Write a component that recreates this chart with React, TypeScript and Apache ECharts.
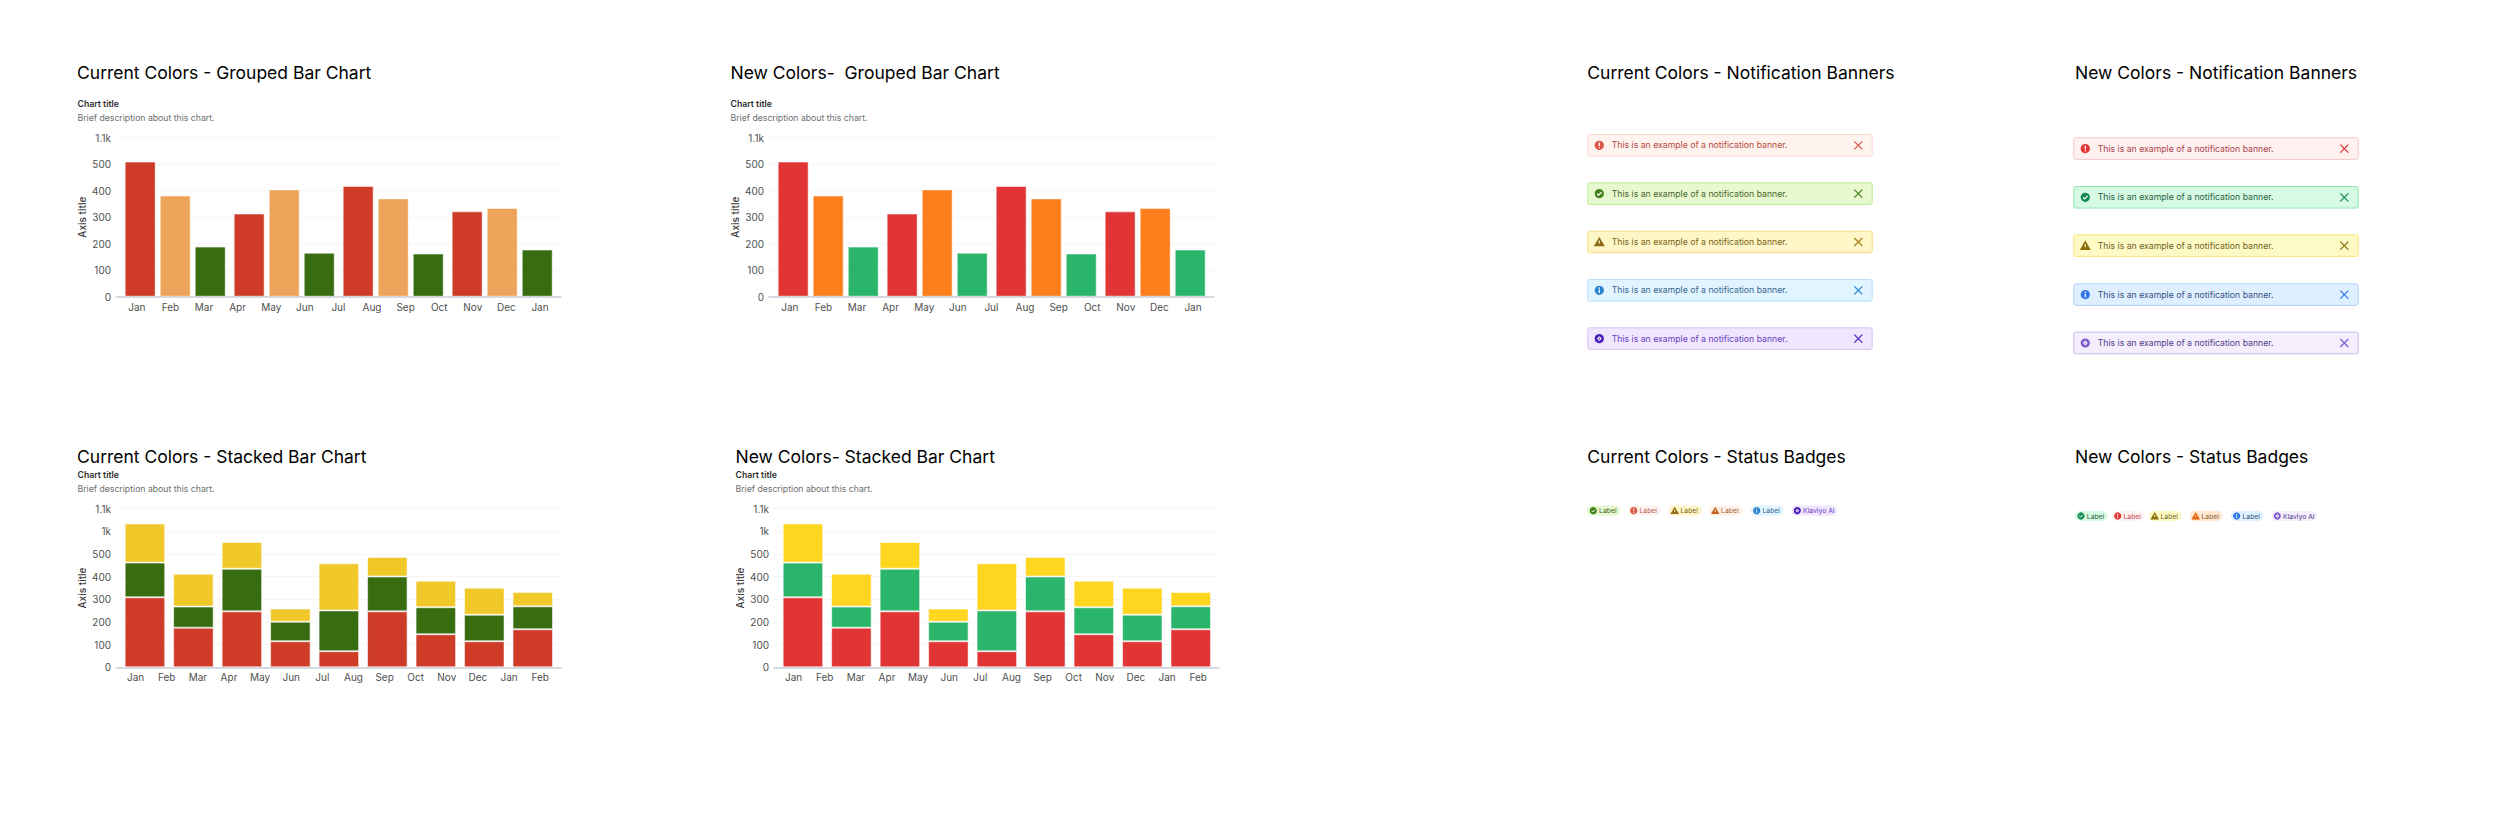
import React, { useEffect, useRef } from "react";
import * as echarts from "echarts";

// ---- chart data ----
const groupedLabels = ["Jan", "Feb", "Mar", "Apr", "May", "Jun", "Jul", "Aug", "Sep", "Oct", "Nov", "Dec", "Jan"];
const groupedBands = ["Group 1", "Group 2", "Group 3", "Group 4"];
const groupedA = [510, 314, 418, 322];
const groupedB = [382, 405, 371, 335];
const groupedC = [189, 166, 163, 178];
const groupedTicks = ["0", "100", "200", "300", "400", "500", "1.1k"];

const stackedLabels = ["Jan", "Feb", "Mar", "Apr", "May", "Jun", "Jul", "Aug", "Sep", "Oct", "Nov", "Dec", "Jan", "Feb"];
const stackedBands = ["1", "2", "3", "4", "5", "6", "7", "8", "9"];
const stackedBottom = [309, 175, 247, 115, 71, 247, 146, 115, 168];
const stackedMiddle = [153, 93, 188, 86, 180, 154, 119, 117, 101];
const stackedTop = [173, 145, 118, 58, 208, 86, 117, 119, 63];
const stackedTicks = ["0", "100", "200", "300", "400", "500", "1k", "1.1k"];

// ---- texts ----
const bannerText = "This is an example of a notification banner.";
const badgeTexts = ["Label", "Label", "Label", "Label", "Label", "Klaviyo AI"];
const chartTitle = "Chart title";
const chartDesc = "Brief description about this chart.";

const FONT = "Inter, 'Noto Sans', sans-serif";
const currentBars = { red: "#CE3B27", orange: "#EDA35A", green: "#386C10", yellow: "#F0C829" };
const newBars = { red: "#E13535", orange: "#FC7E1C", green: "#2BB56B", yellow: "#FFD61F" };

type Tone = { bg: string; border: string; icon: string; text: string; close: string; inner: string };
const currentTones: Tone[] = [
  { bg: "#FEF3EF", border: "#FCD5CE", icon: "#DD5546", text: "#B8493C", close: "#DD5546", inner: "#fff" },
  { bg: "#E9F9CF", border: "#BCE88E", icon: "#44801C", text: "#44662A", close: "#44801C", inner: "#fff" },
  { bg: "#FEF6C6", border: "#F6DB82", icon: "#8E6A1A", text: "#7A6320", close: "#A8801F", inner: "#FEF6C6" },
  { bg: "#E0F5FF", border: "#B5E0FA", icon: "#2B82D0", text: "#3A648F", close: "#2B82D0", inner: "#fff" },
  { bg: "#F0E6FD", border: "#D8C0F6", icon: "#4A1FB8", text: "#6A3FC0", close: "#4A1FB8", inner: "#fff" },
];
const newTones: Tone[] = [
  { bg: "#FEF1F0", border: "#F8C6C4", icon: "#E13535", text: "#A8424A", close: "#E13535", inner: "#fff" },
  { bg: "#D6FAE2", border: "#8DE8AE", icon: "#148A55", text: "#2B5F48", close: "#148A55", inner: "#fff" },
  { bg: "#FEFAC6", border: "#FBE478", icon: "#8A6D08", text: "#6E5F20", close: "#8A6D08", inner: "#FEFAC6" },
  { bg: "#DEF0FF", border: "#B0D2FA", icon: "#3278E8", text: "#33507F", close: "#3278E8", inner: "#fff" },
  { bg: "#F4EEFD", border: "#C9B8EC", icon: "#7E5CD0", text: "#4E4088", close: "#7E5CD0", inner: "#fff" },
];
const currentBadges: Tone[] = [
  { ...currentTones[1], bg: "#E5F8CF", text: "#44662A" },
  { ...currentTones[0], text: "#C0584C" },
  { ...currentTones[2], icon: "#8E6A1A", text: "#7A6320" },
  { bg: "#FFF1E8", border: "", icon: "#C4601E", text: "#9A6238", close: "", inner: "#FFF1E8" },
  { ...currentTones[3], text: "#3A648F" },
  { ...currentTones[4], text: "#6A3FC0" },
];
const newBadges: Tone[] = [
  { ...newTones[1] },
  { ...newTones[0], text: "#C04A50" },
  { ...newTones[2] },
  { bg: "#FFE8D2", border: "", icon: "#E8650F", text: "#8E5A30", close: "", inner: "#FFE8D2" },
  { ...newTones[3] },
  { ...newTones[4] },
];
const bannerIcons = ["alert", "check", "warn", "info", "spark"];
const badgeIcons = ["check", "alert", "warn", "warn", "info", "spark"];

// ---- helpers ----
function label(text: string, x: number, y: number, font: string, fill: string) {
  return { type: "text", x, y, silent: true, style: { text, x: 0, y: 0, font, fill, align: "left", verticalAlign: "middle" } };
}

function icon(kind: string, cx: number, cy: number, r: number, t: Tone) {
  const c = t.icon;
  const w = t.inner;
  const k = r / 4;
  const out: any[] = [];
  if (kind === "warn") {
    out.push({ type: "polygon", silent: true, shape: { points: [[cx, cy - 4.4 * k], [cx + 4.8 * k, cy + 3.8 * k], [cx - 4.8 * k, cy + 3.8 * k]] }, style: { fill: c } });
    out.push({ type: "rect", silent: true, shape: { x: cx - 0.5 * k, y: cy - 1.4 * k, width: k, height: 2.8 * k }, style: { fill: w } });
    return out;
  }
  out.push({ type: "circle", silent: true, shape: { cx, cy, r }, style: { fill: c } });
  if (kind === "alert") {
    out.push({ type: "rect", silent: true, shape: { x: cx - 0.55 * k, y: cy - 2.4 * k, width: 1.1 * k, height: 3 * k }, style: { fill: w } });
    out.push({ type: "circle", silent: true, shape: { cx, cy: cy + 1.9 * k, r: 0.6 * k }, style: { fill: w } });
  } else if (kind === "info") {
    out.push({ type: "rect", silent: true, shape: { x: cx - 0.55 * k, y: cy - 0.6 * k, width: 1.1 * k, height: 3 * k }, style: { fill: w } });
    out.push({ type: "circle", silent: true, shape: { cx, cy: cy - 1.9 * k, r: 0.6 * k }, style: { fill: w } });
  } else if (kind === "check") {
    out.push({ type: "polyline", silent: true, shape: { points: [[cx - 1.9 * k, cy + 0.1 * k], [cx - 0.5 * k, cy + 1.4 * k], [cx + 2 * k, cy - 1.3 * k]] }, style: { stroke: w, lineWidth: 1.1 * k, fill: "none" } });
  } else {
    out.push({ type: "polygon", silent: true, shape: { points: [[cx, cy - 2.1 * k], [cx + 2.1 * k, cy], [cx, cy + 2.1 * k], [cx - 2.1 * k, cy]] }, style: { fill: w } });
    out.push({ type: "circle", silent: true, shape: { cx, cy, r: 0.6 * k }, style: { fill: c } });
  }
  return out;
}

function banners(left: number, width: number, tops: number[], tones: Tone[]) {
  const out: any[] = [];
  tones.forEach((t, i) => {
    const top = tops[i];
    const cy = top + 11.3;
    out.push({ type: "rect", silent: true, shape: { x: left + 0.5, y: top + 0.5, width: width - 1, height: 21.6, r: 2 }, style: { fill: t.bg, stroke: t.border, lineWidth: 1 } });
    out.push(...icon(bannerIcons[i], left + 12, cy, 4.6, t));
    out.push(label(bannerText, left + 24.4, cy, `400 8.7px ${FONT}`, t.text));
    const xc = left + width - 14.4;
    const s = 4;
    out.push({ type: "line", silent: true, shape: { x1: xc - s, y1: cy - s, x2: xc + s, y2: cy + s }, style: { stroke: t.close, lineWidth: 1.2 } });
    out.push({ type: "line", silent: true, shape: { x1: xc - s, y1: cy + s, x2: xc + s, y2: cy - s }, style: { stroke: t.close, lineWidth: 1.2 } });
  });
  return out;
}

function badges(xs: number[][], cy: number, tones: Tone[]) {
  const out: any[] = [];
  tones.forEach((t, i) => {
    const [l, r] = xs[i];
    out.push({ type: "rect", silent: true, shape: { x: l, y: cy - 5.1, width: r - l, height: 10.2, r: 5.1 }, style: { fill: t.bg } });
    out.push(...icon(badgeIcons[i], l + 6, cy, 3.6, t));
    out.push(label(badgeTexts[i], l + 11.8, cy, `400 6.8px ${FONT}`, t.text));
  });
  return out;
}

function buildOption() {
  const grids: any[] = [];
  const xAxes: any[] = [];
  const yAxes: any[] = [];
  const series: any[] = [];
  const graphics: any[] = [];
  const titleFont = `400 17.5px ${FONT}`;

  const addChart = (cfg: {
    title: string; dx: number; titleX: number; titleY: number; subY: number; descY: number;
    top: number; bottom: number; ticks: string[]; labels: string[]; bands: string[];
    barLeft: number; barWidthAll: number; labelLeft: number; labelWidthAll: number;
    stacked: boolean; colors: any;
  }) => {
    const height = cfg.bottom - cfg.top;
    const max = (cfg.ticks.length - 1) * 100;
    const tickFmt = (v: number) => cfg.ticks[Math.round(v / 100)] ?? "";
    const base = { top: cfg.top, height, containLabel: false };
    const grid = (left: number, width: number) => {
      grids.push({ ...base, left, width });
      return grids.length - 1;
    };

    // frame: gridlines, y labels, axis title and the baseline
    const g0 = grid(116 + cfg.dx, 445);
    xAxes.push({ type: "category", gridIndex: g0, data: cfg.labels, boundaryGap: true, z: 5, axisLabel: { show: false }, axisTick: { show: false }, axisLine: { show: true, lineStyle: { color: "#C9CFDA", width: 1.5 } } });
    yAxes.push({
      type: "value", gridIndex: g0, min: 0, max, interval: 100, name: "Axis title", nameLocation: "middle", nameRotate: 90, nameGap: 29,
      nameTextStyle: { fontFamily: FONT, fontSize: 10, fontWeight: 500, color: "#3C3C3C" },
      axisLine: { show: false }, axisTick: { show: false },
      axisLabel: { formatter: tickFmt, margin: 5, fontFamily: FONT, fontSize: 10, color: "#505050" },
      splitLine: { show: true, lineStyle: { color: "#F5F5F5", width: 1 } },
    });

    // bars
    const g1 = grid(cfg.barLeft + cfg.dx, cfg.barWidthAll);
    const xb = xAxes.length;
    const yb = yAxes.length;
    xAxes.push({ type: "category", gridIndex: g1, data: cfg.bands, show: false });
    yAxes.push({ type: "value", gridIndex: g1, min: 0, max, interval: 100, show: false });
    const border = { borderColor: "rgba(255,255,255,0.55)", borderWidth: 1 };
    if (cfg.stacked) {
      const id = `s${grids.length}`;
      [[stackedBottom, cfg.colors.red, "Bottom"], [stackedMiddle, cfg.colors.green, "Middle"], [stackedTop, cfg.colors.yellow, "Top"]].forEach(([d, c, n]: any) => {
        series.push({ type: "bar", name: n, stack: id, xAxisIndex: xb, yAxisIndex: yb, data: d, barWidth: 40.5, itemStyle: { color: c, ...border } });
      });
    } else {
      [[groupedA, cfg.colors.red, "A"], [groupedB, cfg.colors.orange, "B"], [groupedC, cfg.colors.green, "C"]].forEach(([d, c, n]: any) => {
        series.push({ type: "bar", name: n, xAxisIndex: xb, yAxisIndex: yb, data: d, barWidth: 31, barGap: "13%", itemStyle: { color: c, ...border } });
      });
    }

    // x labels (their own band scale: the source's labels do not line up with its bars)
    const g2 = grid(cfg.labelLeft + cfg.dx, cfg.labelWidthAll);
    xAxes.push({
      type: "category", gridIndex: g2, data: cfg.labels, axisLine: { show: false }, axisTick: { show: false },
      axisLabel: { interval: 0, margin: 5, hideOverlap: false, fontFamily: FONT, fontSize: 10, color: "#505050" },
    });
    yAxes.push({ type: "value", gridIndex: g2, min: 0, max, interval: 100, show: false });

    graphics.push(label(cfg.title, cfg.titleX, cfg.titleY, titleFont, "#000000"));
    graphics.push(label(chartTitle, 77.5 + cfg.dx, cfg.subY, `600 8.7px ${FONT}`, "#2E2E2E"));
    graphics.push(label(chartDesc, 77.5 + cfg.dx, cfg.descY, `400 8.7px ${FONT}`, "#6E6E6E"));
  };

  const grouped = { top: 137.7, bottom: 296.7, ticks: groupedTicks, labels: groupedLabels, bands: groupedBands, barLeft: 120.7, barWidthAll: 436, labelLeft: 120, labelWidthAll: 436.8, stacked: false, subY: 104, descY: 118, titleY: 72.2 };
  const stacked = { top: 508.7, bottom: 667.3, ticks: stackedTicks, labels: stackedLabels, bands: stackedBands, barLeft: 120.7, barWidthAll: 436.3, labelLeft: 120.1, labelWidthAll: 435.6, stacked: true, subY: 475, descY: 489, titleY: 456.2 };
  addChart({ ...grouped, title: "Current Colors - Grouped Bar Chart", dx: 0, titleX: 77, colors: currentBars });
  addChart({ ...grouped, title: "New Colors-  Grouped Bar Chart", dx: 653, titleX: 730.5, colors: newBars });
  addChart({ ...stacked, title: "Current Colors - Stacked Bar Chart", dx: 0, titleX: 77, colors: currentBars });
  addChart({ ...stacked, title: "New Colors- Stacked Bar Chart", dx: 658, titleX: 735.5, colors: newBars });

  // banners and badges
  graphics.push(label("Current Colors - Notification Banners", 1587.3, 72.2, titleFont, "#000000"));
  graphics.push(label("New Colors - Notification Banners", 2075, 72.2, titleFont, "#000000"));
  graphics.push(label("Current Colors - Status Badges", 1587.3, 456.8, titleFont, "#000000"));
  graphics.push(label("New Colors - Status Badges", 2075, 456.8, titleFont, "#000000"));
  graphics.push(...banners(1587.3, 285.4, [134, 182.3, 230.7, 279, 327.3], currentTones));
  graphics.push(...banners(2073.3, 285.4, [137.3, 186, 234.3, 283.3, 331.7], newTones));
  graphics.push(...badges([[1587.3, 1620], [1627.7, 1660.7], [1668.7, 1701.7], [1709.3, 1742.3], [1750.7, 1783.3], [1791.3, 1837]], 510.7, currentBadges));
  graphics.push(...badges([[2075, 2107.3], [2111.7, 2144.3], [2148.7, 2181.7], [2189.7, 2222.3], [2230.7, 2263.3], [2271.3, 2317]], 516, newBadges));

  return {
    animation: false,
    backgroundColor: "#FFFFFF",
    textStyle: { fontFamily: FONT },
    grid: grids,
    xAxis: xAxes,
    yAxis: yAxes,
    series,
    graphic: { elements: graphics },
  };
}

export default function App() {
  const ref = useRef<HTMLDivElement>(null);
  useEffect(() => {
    const chart = echarts.init(ref.current!, undefined, { renderer: "svg" });
    chart.setOption(buildOption() as any);
    return () => chart.dispose();
  }, []);
  return <div ref={ref} style={{ position: "absolute", left: 0, top: 0, width: 2500, height: 820 }} />;
}
